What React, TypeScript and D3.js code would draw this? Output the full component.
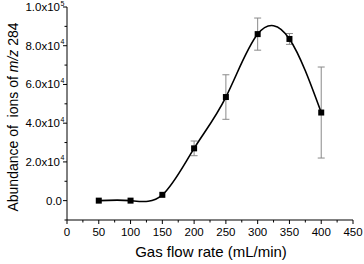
import React from "react";
import * as d3 from "d3";

const flowRates = [50, 100, 150, 200, 250, 300, 350, 400];
const abundance = [0, 0, 3000, 27000, 53500, 86000, 83500, 45500];
const errLow = [0, 0, 0, 3800, 11500, 8300, 2800, 23500];
const errHigh = [0, 0, 0, 3800, 11500, 8300, 2800, 23500];
const xTicks = [0, 50, 100, 150, 200, 250, 300, 350, 400, 450];
const yTicks = [0, 20000, 40000, 60000, 80000, 100000];
const yTickLabels = ["0.0", "2.0x10|4", "4.0x10|4", "6.0x10|4", "8.0x10|4", "1.0x10|5"];

export default function App() {
  const W = 364;
  const H = 264;
  const left = 67;
  const right = 353;
  const top = 7;
  const bottom = 220;

  const x = d3.scaleLinear().domain([0, 450]).range([left, right]);
  const y = d3.scaleLinear().domain([-10000, 100000]).range([bottom, top]);

  const pts: [number, number][] = flowRates.map((f, i) => [x(f), y(abundance[i])]);
  const line = d3.line().curve(d3.curveNatural)(pts) || "";

  const xMinor = d3.range(25, 450, 50);
  const yMinor = d3.range(-10000, 100000, 20000);
  const font = "Arial, 'Liberation Sans', sans-serif";

  return (
    <svg width={W} height={H} style={{ position: "absolute", left: 0, top: 0, background: "#fff" }} fontFamily={font}>
      {/* axes */}
      <line x1={left} x2={left} y1={top} y2={bottom} stroke="#000" strokeWidth={1} />
      <line x1={left} x2={right} y1={bottom} y2={bottom} stroke="#000" strokeWidth={1} />
      {xTicks.map((t) => (
        <g key={"xt" + t}>
          <line x1={x(t)} x2={x(t)} y1={bottom} y2={bottom + 4} stroke="#000" />
          <text x={x(t)} y={236} textAnchor="middle" fontSize={11.5}>{t}</text>
        </g>
      ))}
      {xMinor.map((t) => (
        <line key={"xm" + t} x1={x(t)} x2={x(t)} y1={bottom} y2={bottom + 2.5} stroke="#000" />
      ))}
      {yTicks.map((t, i) => {
        const [base, sup] = yTickLabels[i].split("|");
        return (
          <g key={"yt" + t}>
            <line x1={left - 4} x2={left} y1={y(t)} y2={y(t)} stroke="#000" />
            <text x={sup ? 60 : 62} y={y(t) + 4} textAnchor="end" fontSize={11.5}>{base}</text>
            {sup && (
              <text x={60.5} y={y(t) - 1.5} fontSize={7}>{sup}</text>
            )}
          </g>
        );
      })}
      {yMinor.map((t) => (
        <line key={"ym" + t} x1={left - 2.5} x2={left} y1={y(t)} y2={y(t)} stroke="#000" />
      ))}

      {/* error bars */}
      {flowRates.map((f, i) =>
        errHigh[i] > 0 ? (
          <g key={"e" + f} stroke="#8a8a8a" strokeWidth={1}>
            <line x1={x(f)} x2={x(f)} y1={y(abundance[i] + errHigh[i])} y2={y(abundance[i] - errLow[i])} />
            <line x1={x(f) - 3.5} x2={x(f) + 3.5} y1={y(abundance[i] + errHigh[i])} y2={y(abundance[i] + errHigh[i])} />
            <line x1={x(f) - 3.5} x2={x(f) + 3.5} y1={y(abundance[i] - errLow[i])} y2={y(abundance[i] - errLow[i])} />
          </g>
        ) : null
      )}

      <path d={line} fill="none" stroke="#000" strokeWidth={1.6} />

      {pts.map(([px, py], i) => (
        <rect key={"p" + i} x={px - 3} y={py - 3} width={6} height={6} fill="#000" />
      ))}

      <text x={211} y={257} textAnchor="middle" fontSize={15}>Gas flow rate (mL/min)</text>
      <text transform={`translate(18, 117) rotate(-90)`} textAnchor="middle" fontSize={14} style={{ whiteSpace: "pre" }}>
        {"Abundance of  ions of "}<tspan fontStyle="italic">m/z</tspan>{" 284"}
      </text>
    </svg>
  );
}
